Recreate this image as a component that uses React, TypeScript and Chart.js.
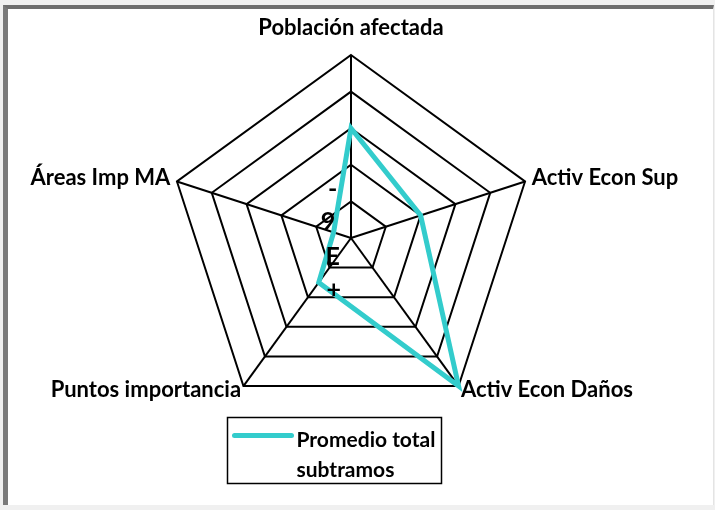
import React, { useEffect, useRef } from "react";
import { Chart, registerables } from "chart.js";

Chart.register(...registerables);

const categories = [
  "Población afectada",
  "Activ Econ Sup",
  "Activ Econ Daños",
  "Puntos importancia",
  "Áreas Imp MA",
];
const seriesLabelLines = ["Promedio total", "subtramos"];
const promedioValues = [3, 2, 5, 1.5, 0.5];
const tickLabels = ["-", "9", "E", "+"];
const scaleMin = 0;
const scaleMax = 5;
const scaleStep = 1;

const FONT = "Lato, 'Open Sans', sans-serif";
// label offsets (in ring units) for the odd tick labels near the centre
const TICK_DX = [-0.5, -0.63, -0.5, -0.47];
const TICK_DY = [-1.34, -0.44, 0.52, 1.42];
// per-axis label padding (top, right, bottom-right, bottom-left, left)
const LABEL_PAD = [26, 7, 4, 4, 7];

const tickLabelPlugin = {
  id: "oddTicks",
  afterDatasetsDraw(chart: any) {
    const r = chart.scales.r;
    const ctx = chart.ctx;
    const step = r.getDistanceFromCenterForValue(scaleMin + scaleStep);
    ctx.save();
    ctx.fillStyle = "#000";
    ctx.font = `bold 25px ${FONT}`;
    ctx.textAlign = "center";
    ctx.textBaseline = "middle";
    tickLabels.forEach((t, i) => {
      ctx.fillText(t, r.xCenter + TICK_DX[i] * step, r.yCenter + TICK_DY[i] * step);
    });
    ctx.restore();
  },
};

const legendPlugin = {
  id: "boxLegend",
  afterDraw(chart: any) {
    const ctx = chart.ctx;
    const ds = chart.data.datasets[0];
    const x = 227.5, y = 417.5, w = 214, h = 66;
    ctx.save();
    ctx.strokeStyle = "#000";
    ctx.lineWidth = 1.5;
    ctx.strokeRect(x, y, w, h);
    ctx.strokeStyle = ds.borderColor;
    ctx.lineWidth = ds.borderWidth;
    ctx.lineCap = "round";
    ctx.beginPath();
    ctx.moveTo(x + 7, y + 18);
    ctx.lineTo(x + 64, y + 18);
    ctx.stroke();
    ctx.fillStyle = "#000";
    ctx.font = `bold 21px ${FONT}`;
    ctx.textAlign = "left";
    ctx.textBaseline = "middle";
    seriesLabelLines.forEach((line, i) => {
      ctx.fillText(line, x + 69, y + 23 + i * 30);
    });
    ctx.restore();
  },
};

export default function App() {
  const ref = useRef<HTMLCanvasElement | null>(null);
  useEffect(() => {
    if (!ref.current) return;
    const chart = new Chart(ref.current, {
      type: "radar",
      data: {
        labels: categories,
        datasets: [
          {
            label: seriesLabelLines.join(" "),
            data: promedioValues,
            borderColor: "#33CCCC",
            borderWidth: 5,
            fill: false,
            pointRadius: 0,
            pointHoverRadius: 0,
            tension: 0,
          },
        ],
      },
      options: {
        responsive: false,
        animation: false,
        layout: { padding: { top: 13, left: -4, right: 11, bottom: 75 } },
        plugins: { legend: { display: false }, tooltip: { enabled: false } },
        scales: {
          r: {
            min: scaleMin,
            max: scaleMax,
            ticks: { display: false, stepSize: scaleStep },
            grid: { color: "#000", lineWidth: 2 },
            angleLines: { color: "#000", lineWidth: 2 },
            pointLabels: {
              color: "#000",
              padding: (c: any) => LABEL_PAD[c.index] ?? 6,
              font: { family: FONT, size: 22, weight: "bold", lineHeight: "2px" },
            },
          },
        },
      },
      plugins: [tickLabelPlugin, legendPlugin],
    });
    return () => chart.destroy();
  }, []);

  return (
    <div style={{ position: "fixed", left: 0, top: 0, width: 715, height: 510, background: "#f0f0f0" }}>
      <div
        style={{
          position: "absolute",
          left: 3,
          top: 5,
          width: 705,
          height: 496,
          background: "#fff",
          borderLeft: "5px solid #7a7a7a",
          borderTop: "4px solid #6e6e6e",
          borderRight: "1px solid #e4e4e4",
        }}
      />
      <canvas ref={ref} width={715} height={510} style={{ position: "absolute", left: 0, top: 0 }} />
    </div>
  );
}
